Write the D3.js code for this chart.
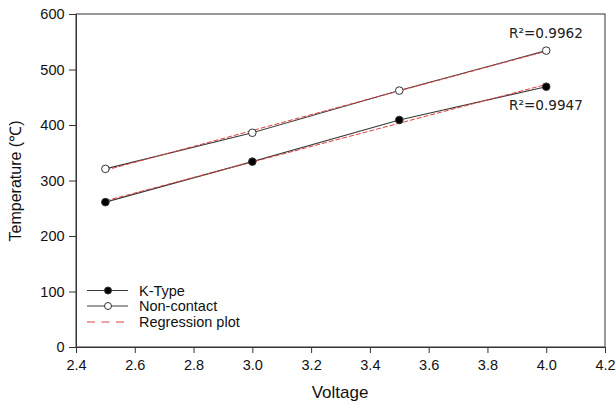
<!DOCTYPE html>
<html><head><meta charset="utf-8">
<script src="https://cdn.jsdelivr.net/npm/d3@7"></script>
<style>body{margin:0;background:#fff}svg{display:block}</style>
</head><body>
<script>
const voltage = [2.5, 3.0, 3.5, 4.0];
const kType = [261, 334, 409, 469];
const nonContact = [321, 386, 462, 534];
const r2Labels = ["R\u00B2=0.9962", "R\u00B2=0.9947"];
const xTicks = [2.4, 2.6, 2.8, 3.0, 3.2, 3.4, 3.6, 3.8, 4.0, 4.2];
const yTicks = [0, 100, 200, 300, 400, 500, 600];
const legendLabels = ["K-Type", "Non-contact", "Regression plot"];

const W = 616, H = 402;
const svg = d3.select("body").append("svg").attr("width", W).attr("height", H);
const x = d3.scaleLinear().domain([2.4, 4.2]).range([76, 605]);
const y = d3.scaleLinear().domain([0, 600]).range([347, 14]);
const font = "Liberation Sans, Arial, sans-serif";
const axisColor = "#333";

// frame
svg.append("rect").attr("x", x(2.4)).attr("y", y(600)).attr("width", x(4.2)-x(2.4)).attr("height", y(0)-y(600))
  .attr("fill", "none").attr("stroke", axisColor).attr("stroke-width", 1);

const xa = svg.append("g").attr("transform", `translate(0,${y(0)})`)
  .call(d3.axisBottom(x).tickValues(xTicks).tickFormat(d3.format(".1f")).tickSize(6).tickSizeOuter(0));
const ya = svg.append("g").attr("transform", `translate(${x(2.4)},0)`)
  .call(d3.axisLeft(y).tickValues(yTicks).tickSize(7).tickSizeOuter(0));
[xa, ya].forEach(g => {
  g.select(".domain").attr("stroke", axisColor);
  g.selectAll(".tick line").attr("stroke", axisColor);
  g.selectAll(".tick text").attr("font-family", font).attr("font-size", 14.5).attr("fill", "#111");
});
xa.selectAll(".tick text").attr("dy", "0.98em");
ya.selectAll(".tick text").attr("dx", "-0.1em");

svg.append("text").attr("x", 340).attr("y", 398).attr("text-anchor", "middle")
  .attr("font-family", font).attr("font-size", 17).attr("fill", "#111").text("Voltage");
svg.append("text").attr("transform", `translate(21,181) rotate(-90)`).attr("text-anchor", "middle")
  .attr("font-family", font).attr("font-size", 16).attr("fill", "#111").text("Temperature (\u2103)");

function fit(xs, ys) {
  const mx = d3.mean(xs), my = d3.mean(ys);
  const sxy = d3.sum(xs, (v, i) => (v - mx) * (ys[i] - my));
  const sxx = d3.sum(xs, v => (v - mx) ** 2);
  const b = sxy / sxx;
  return v => my + b * (v - mx);
}

const line = d3.line().x(d => x(d[0])).y(d => y(d[1]));
const series = [
  {vals: nonContact, fill: "#fff"},
  {vals: kType, fill: "#000"}
];
series.forEach(s => {
  const pts = voltage.map((v, i) => [v, s.vals[i]]);
  svg.append("path").attr("d", line(pts)).attr("fill", "none").attr("stroke", "#3a3a3a").attr("stroke-width", 1.1);
  const f = fit(voltage, s.vals);
  const ends = [voltage[0], voltage[voltage.length - 1]];
  svg.append("path").attr("d", line(ends.map(v => [v, f(v)]))).attr("fill", "none")
    .attr("stroke", "#e04040").attr("stroke-width", 1).attr("stroke-dasharray", "5,2");
  svg.selectAll(null).data(pts).enter().append("circle")
    .attr("cx", d => x(d[0])).attr("cy", d => y(d[1])).attr("r", 3.8)
    .attr("fill", s.fill).attr("stroke", "#333").attr("stroke-width", 1);
});

svg.append("text").attr("x", 546).attr("y", 38).attr("text-anchor", "middle")
  .attr("font-family", "DejaVu Sans, Verdana, sans-serif").attr("font-size", 13.6).attr("fill", "#222").text(r2Labels[0]);
svg.append("text").attr("x", 546).attr("y", 110).attr("text-anchor", "middle")
  .attr("font-family", "DejaVu Sans, Verdana, sans-serif").attr("font-size", 13.6).attr("fill", "#222").text(r2Labels[1]);

// legend
const lg = svg.append("g");
const ly = [290.5, 306, 322];
legendLabels.forEach((t, i) => {
  if (i < 2) {
    lg.append("line").attr("x1", 87).attr("x2", 128).attr("y1", ly[i]).attr("y2", ly[i]).attr("stroke", "#3a3a3a").attr("stroke-width", 1.1);
    lg.append("circle").attr("cx", 108).attr("cy", ly[i]).attr("r", 3.5)
      .attr("fill", i === 0 ? "#000" : "#fff").attr("stroke", "#333");
  } else {
    lg.append("line").attr("x1", 87).attr("x2", 128).attr("y1", ly[i]).attr("y2", ly[i])
      .attr("stroke", "#e04040").attr("stroke-width", 1).attr("stroke-dasharray", "8,6.5");
  }
  lg.append("text").attr("x", 139).attr("y", ly[i] + 5).attr("font-family", font).attr("font-size", 14.5)
    .attr("fill", "#111").text(t);
});
</script>
</body></html>
